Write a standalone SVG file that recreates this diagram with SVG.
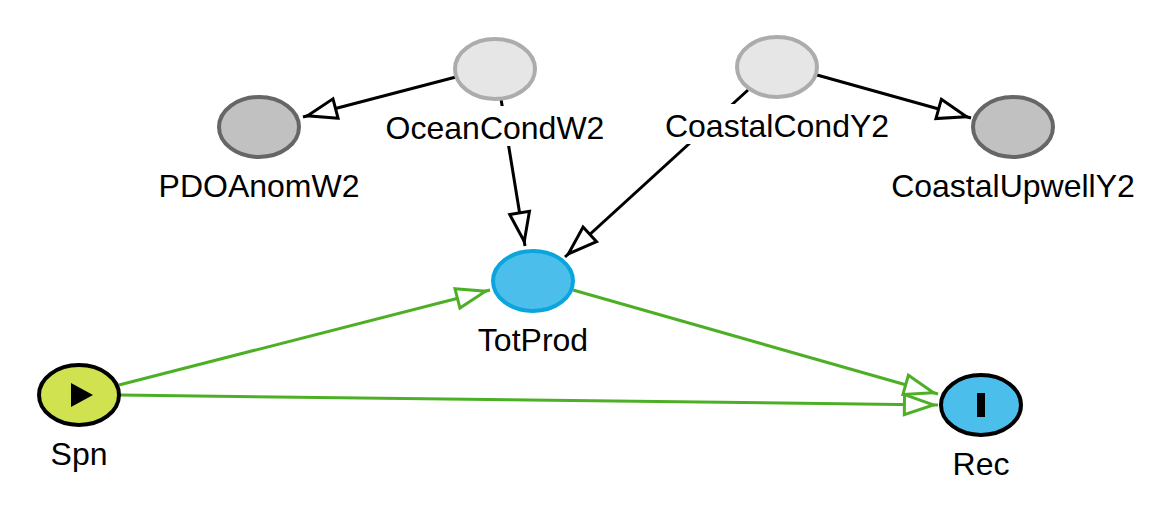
<svg xmlns="http://www.w3.org/2000/svg" width="1163" height="519" viewBox="0 0 1163 519">
<style>
text{font-family:"Liberation Sans",Arial,sans-serif;font-size:32px;fill:#000;text-anchor:middle}
.e{fill:none;stroke-width:3}
.k{stroke:#000;marker-end:url(#ak)}
.g{stroke:#4daf26;marker-end:url(#ag)}
.bg{fill:#fff}
ellipse{stroke-width:4}
.lt{fill:#e6e6e6;stroke:#acacac}
.dk{fill:#c1c1c1;stroke:#666}
</style>
<defs>
<marker id="ak" markerUnits="userSpaceOnUse" markerWidth="42" markerHeight="28" refX="35.6" refY="14" orient="auto" viewBox="0 0 42 28"><path d="M2,4 L31,14 L2,24 Z" fill="#fff" stroke="#000" stroke-width="3"/></marker>
<marker id="ag" markerUnits="userSpaceOnUse" markerWidth="42" markerHeight="28" refX="35.6" refY="14" orient="auto" viewBox="0 0 42 28"><path d="M2,4 L31,14 L2,24 Z" fill="#fff" stroke="#4daf26" stroke-width="3"/></marker>
</defs>
<rect width="1163" height="519" fill="#fff"/>
<g id="connectors">
<line class="e k" x1="456" y1="77" x2="303" y2="117"/>
<line class="e k" x1="501" y1="99" x2="525" y2="246"/>
<line class="e k" x1="748" y1="90" x2="565" y2="257"/>
<line class="e k" x1="817" y1="75" x2="971" y2="118"/>
<line class="e g" x1="119" y1="385" x2="490" y2="290"/>
<line class="e g" x1="573" y1="290" x2="938" y2="394"/>
<line class="e g" x1="120" y1="395" x2="938" y2="405"/>
</g>
<g id="OceanCondW2"><rect class="bg" x="384" y="106" width="222" height="40"/><ellipse class="lt" cx="495" cy="69" rx="40" ry="30"/><text x="495" y="139">OceanCondW2</text></g>
<g id="CoastalCondY2"><rect class="bg" x="664" y="104" width="227" height="40"/><ellipse class="lt" cx="777" cy="67" rx="40" ry="30"/><text x="777" y="137">CoastalCondY2</text></g>
<g id="PDOAnomW2"><ellipse class="dk" cx="259" cy="127" rx="40" ry="30"/><text x="259" y="197">PDOAnomW2</text></g>
<g id="CoastalUpwellY2"><ellipse class="dk" cx="1013" cy="127" rx="40" ry="30"/><text x="1013" y="197">CoastalUpwellY2</text></g>
<g id="TotProd"><ellipse cx="533" cy="281" rx="40" ry="30" fill="#4cbeeb" stroke="#0ba5de"/><text x="533" y="351">TotProd</text></g>
<g id="Spn"><ellipse cx="79" cy="395" rx="40" ry="30" fill="#d1e250" stroke="#000"/><path d="M71,383 L93,395 L71,407 Z" fill="#000"/><text x="79" y="465">Spn</text></g>
<g id="Rec"><ellipse cx="981" cy="405" rx="40" ry="30" fill="#4cbeeb" stroke="#000"/><rect x="977" y="393" width="8" height="24" fill="#000"/><text x="981" y="475">Rec</text></g>
</svg>
